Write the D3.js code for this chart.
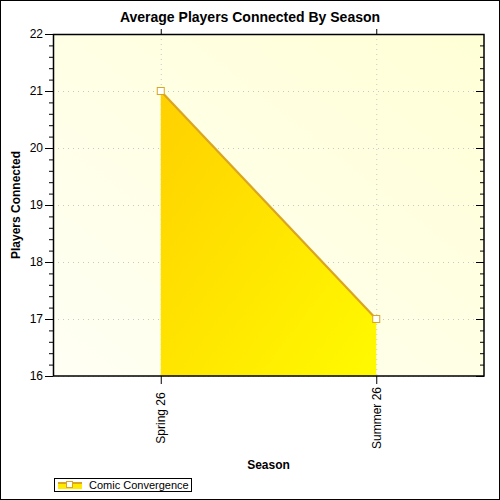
<!DOCTYPE html>
<html>
<head>
<meta charset="utf-8">
<script src="https://cdn.jsdelivr.net/npm/d3@7"></script>
<style>
  body { margin: 0; background: #fff; }
  text { font-family: Arial, "Liberation Sans", sans-serif; }
</style>
</head>
<body>
<div id="chart"></div>
<script>
var seasons = ["Spring 26", "Summer 26"],
    players = [21, 17],
    yTicks = [16, 17, 18, 19, 20, 21, 22],
    seriesName = "Comic Convergence";

var margin = {top: 34, right: 16, bottom: 124, left: 53},
    svg_dx = 500,
    svg_dy = 500,
    width = svg_dx - margin.left - margin.right,
    height = svg_dy - margin.top - margin.bottom;

var x = d3.scalePoint().domain(seasons).range([0, width]).padding(0.5);
var y = d3.scaleLinear().domain([16, 22]).range([height, 0]);

var svg = d3.select("#chart")
            .append("svg")
            .attr("width", svg_dx)
            .attr("height", svg_dy);

var defs = svg.append("defs");

var bg = defs.append("linearGradient")
             .attr("id", "bgGrad")
             .attr("x1", "100%").attr("y1", "0%")
             .attr("x2", "0%").attr("y2", "100%");
bg.append("stop").attr("offset", "0%").attr("stop-color", "#ffffd6");
bg.append("stop").attr("offset", "100%").attr("stop-color", "#fffff4");

var areaGrad = defs.append("linearGradient")
             .attr("id", "areaGrad")
             .attr("x1", "0%").attr("y1", "0%")
             .attr("x2", "100%").attr("y2", "100%");
areaGrad.append("stop").attr("offset", "0%").attr("stop-color", "#ffd000");
areaGrad.append("stop").attr("offset", "100%").attr("stop-color", "#fffa00");

// outer border
svg.append("rect")
   .attr("x", 0.5).attr("y", 0.5)
   .attr("width", svg_dx - 1).attr("height", svg_dy - 1)
   .style("fill", "#fff")
   .style("stroke", "#000");

// title
svg.append("text")
   .attr("x", 250)
   .attr("y", 22)
   .attr("text-anchor", "middle")
   .style("font-size", "14px")
   .style("font-weight", "bold")
   .text("Average Players Connected By Season");

var g = svg.append("g")
           .attr("transform", "translate(" + margin.left + "," + margin.top + ")");

g.append("rect")
 .attr("width", width)
 .attr("height", height)
 .style("fill", "url(#bgGrad)");

// grid lines
g.selectAll(".hgrid")
 .data(yTicks)
 .enter()
 .append("line")
 .attr("x1", 0).attr("x2", width)
 .attr("y1", d => y(d) + 0.5).attr("y2", d => y(d) + 0.5)
 .style("stroke", "#c8c8c8")
 .style("stroke-dasharray", "1,4");

g.selectAll(".vgrid")
 .data(seasons)
 .enter()
 .append("line")
 .attr("x1", d => x(d) + 0.5).attr("x2", d => x(d) + 0.5)
 .attr("y1", 0).attr("y2", height)
 .style("stroke", "#c8c8c8")
 .style("stroke-dasharray", "1,4");

// area
var area = d3.area()
             .x((d, i) => x(seasons[i]))
             .y0(height)
             .y1(d => y(d));

g.append("path")
 .datum(players)
 .attr("d", area)
 .style("fill", "url(#areaGrad)");

var line = d3.line()
             .x((d, i) => x(seasons[i]))
             .y(d => y(d));

g.append("path")
 .datum(players)
 .attr("d", line)
 .style("fill", "none")
 .style("stroke", "#daa520")
 .style("stroke-width", 2.2);

g.selectAll(".marker")
 .data(players)
 .enter()
 .append("rect")
 .attr("x", (d, i) => x(seasons[i]) - 3.5)
 .attr("y", d => y(d) - 3.5)
 .attr("width", 7)
 .attr("height", 7)
 .style("fill", "#fff")
 .style("stroke", "#daa520")
 .style("stroke-width", 1);

// axes
var minorTicks = d3.range(16, 22.001, 0.2);

g.append("g")
 .call(d3.axisLeft(y).tickValues(minorTicks).tickSize(4).tickFormat(""))
 .call(a => a.select(".domain").remove());

g.append("g")
 .call(d3.axisLeft(y).tickValues(yTicks).tickSize(8).tickFormat(d3.format("d")))
 .call(a => a.selectAll("text").style("font-size", "12px").attr("x", -10))
 .call(a => a.select(".domain").remove());

g.append("g")
 .attr("transform", "translate(" + width + ",0)")
 .call(d3.axisLeft(y).tickValues(minorTicks).tickSize(4).tickFormat(""))
 .call(a => a.select(".domain").remove());

g.append("g")
 .attr("transform", "translate(" + width + ",0)")
 .call(d3.axisLeft(y).tickValues(yTicks).tickSize(8).tickFormat(""))
 .call(a => a.select(".domain").remove());

g.append("g")
 .call(d3.axisTop(x).tickSize(5).tickFormat(""))
 .call(a => a.select(".domain").remove());

var xAxis = g.append("g")
 .attr("transform", "translate(0," + height + ")")
 .call(d3.axisBottom(x).tickSize(8).tickSizeOuter(0))
 .call(a => a.select(".domain").remove());

xAxis.selectAll("text")
     .style("font-size", "12px")
     .attr("transform", "rotate(-90)")
     .attr("text-anchor", "middle")
     .attr("x", -42)
     .attr("y", 0)
     .attr("dy", "0.35em");

// plot frame
g.append("rect")
 .attr("x", 0.5).attr("y", 0.5)
 .attr("width", width - 0.5).attr("height", height - 0.5)
 .style("fill", "none")
 .style("stroke", "#000")
 .style("stroke-width", 1.5);

// axis labels
svg.append("text")
   .attr("x", margin.left + width / 2)
   .attr("y", 469)
   .attr("text-anchor", "middle")
   .style("font-size", "12px")
   .style("font-weight", "bold")
   .text("Season");

svg.append("text")
   .attr("transform", "rotate(-90)")
   .attr("x", -(margin.top + height / 2))
   .attr("y", 20)
   .attr("text-anchor", "middle")
   .style("font-size", "12px")
   .style("font-weight", "bold")
   .text("Players Connected");

// legend
var legend = svg.append("g").attr("transform", "translate(54,478)");
legend.append("rect")
      .attr("x", 0.5).attr("y", 0.5)
      .attr("width", 137).attr("height", 13)
      .style("fill", "#fff")
      .style("stroke", "#000");
legend.append("rect")
      .attr("x", 4).attr("y", 5)
      .attr("width", 24).attr("height", 6)
      .style("fill", "#ffea00");
legend.append("line")
      .attr("x1", 4).attr("x2", 28)
      .attr("y1", 5).attr("y2", 5)
      .style("stroke", "#daa520")
      .style("stroke-width", 2);
legend.append("rect")
      .attr("x", 12.5).attr("y", 3.5)
      .attr("width", 6).attr("height", 6)
      .style("fill", "#fff")
      .style("stroke", "#daa520");
legend.append("text")
      .attr("x", 35)
      .attr("y", 10.5)
      .style("font-size", "11px")
      .text(seriesName);
</script>
</body>
</html>
